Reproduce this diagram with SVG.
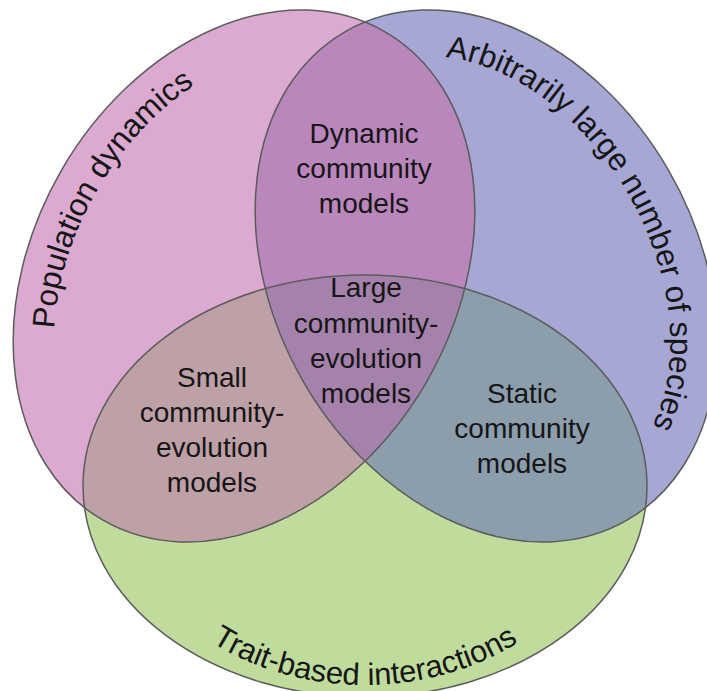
<svg xmlns="http://www.w3.org/2000/svg" xmlns:xlink="http://www.w3.org/1999/xlink" width="707" height="691" viewBox="0 0 707 691">
<style>
.lbl{font-family:"Liberation Sans",Arial,sans-serif;font-size:28px;fill:#161616;text-anchor:middle}
.arc{font-family:"Liberation Sans",Arial,sans-serif;fill:#161616;text-anchor:middle}
.edge{fill:none;stroke:#5c5c5c;stroke-width:1.5}
</style>
<defs>
<ellipse id="eP" cx="244" cy="276" rx="282" ry="211" transform="rotate(-60 244 276)"/>
<ellipse id="eB" cx="486" cy="276" rx="282" ry="211" transform="rotate(60 486 276)"/>
<ellipse id="eG" cx="365" cy="486" rx="282" ry="211"/>
<clipPath id="cpP"><ellipse cx="244" cy="276" rx="282" ry="211" transform="rotate(-60 244 276)"/></clipPath>
<clipPath id="cpB"><ellipse cx="486" cy="276" rx="282" ry="211" transform="rotate(60 486 276)"/></clipPath>
<path id="tpP" d="M 3,276 A 241 170 0 0 1 485,276"/>
<path id="tpB" d="M 251,276 A 235 164 0 0 1 721,276"/>
<path id="tpG" d="M 117,486 A 248 199 0 0 0 613,486"/>
</defs>
<rect width="707" height="691" fill="#ffffff"/>
<g id="set-population-dynamics">
<use href="#eP" fill="#DCAAD0"/>
<text class="arc" font-size="31.5" transform="rotate(-60 244 276)"><textPath href="#tpP" startOffset="50%">Population dynamics</textPath></text>
</g>
<g id="set-arbitrarily-large-number-of-species">
<use href="#eB" fill="#A6A7D4"/>
<text class="arc" font-size="31.5" transform="rotate(60 486 276)"><textPath href="#tpB" startOffset="319">Arbitrarily large number of species</textPath></text>
</g>
<g id="set-trait-based-interactions">
<use href="#eG" fill="#C0DC9D"/>
<text class="arc" font-size="31"><textPath href="#tpG" startOffset="50%">Trait-based interactions</textPath></text>
</g>
<g id="dynamic-community-models">
<use href="#eB" fill="#BA87BD" clip-path="url(#cpP)"/>
<text class="lbl"><tspan x="364" y="143">Dynamic</tspan><tspan x="364" y="178">community</tspan><tspan x="364" y="213">models</tspan></text>
</g>
<g id="small-community-evolution-models">
<use href="#eG" fill="#BEA0A7" clip-path="url(#cpP)"/>
<text class="lbl"><tspan x="212" y="387">Small</tspan><tspan x="212" y="422">community-</tspan><tspan x="212" y="457">evolution</tspan><tspan x="212" y="492">models</tspan></text>
</g>
<g id="static-community-models">
<use href="#eG" fill="#8C9DAC" clip-path="url(#cpB)"/>
<text class="lbl"><tspan x="522" y="403">Static</tspan><tspan x="522" y="438">community</tspan><tspan x="522" y="473">models</tspan></text>
</g>
<g id="large-community-evolution-models">
<g clip-path="url(#cpB)"><use href="#eG" fill="#A582AC" clip-path="url(#cpP)"/></g>
<text class="lbl"><tspan x="366" y="297">Large</tspan><tspan x="366" y="333">community-</tspan><tspan x="366" y="368">evolution</tspan><tspan x="366" y="403">models</tspan></text>
</g>
<g id="connectors"></g>
<g id="outlines">
<use href="#eP" class="edge"/>
<use href="#eB" class="edge"/>
<use href="#eG" class="edge"/>
</g>
</svg>
